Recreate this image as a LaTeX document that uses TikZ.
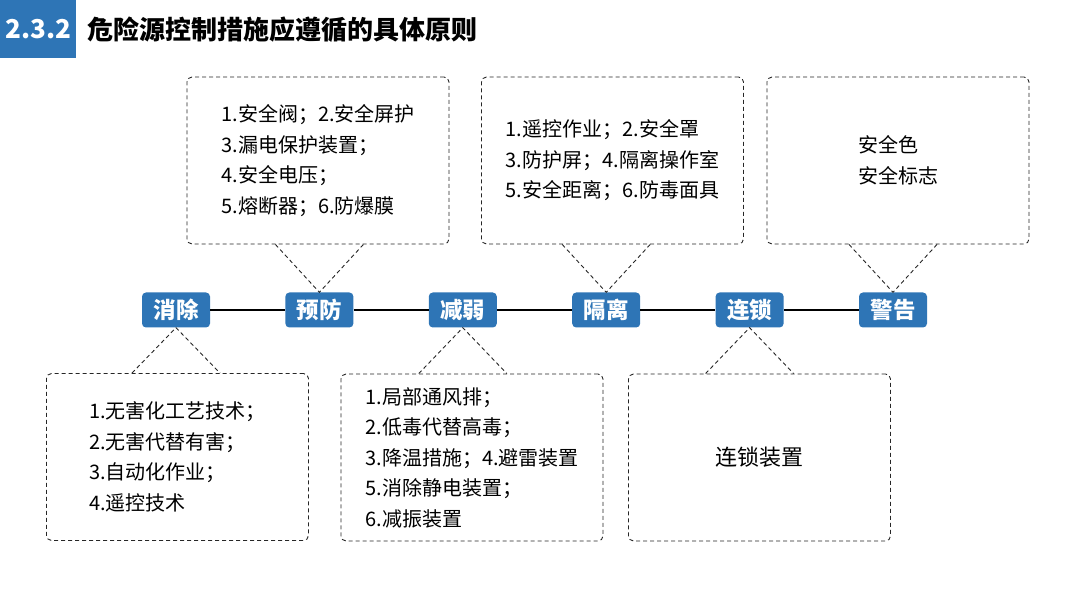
\documentclass[tikz,border=0pt]{standalone}
\usepackage{fontspec}
\setmainfont{Noto Sans CJK SC}
\usetikzlibrary{positioning,calc}
\definecolor{blu}{HTML}{2E75B6}

\begin{document}
\begin{tikzpicture}[x=1pt,y=1pt,
		tag/.style={fill=blu, rounded corners=4pt, minimum width=68pt, minimum height=35pt,
			inner sep=0pt, text=white, font=\fontsize{22.5}{22.5}\selectfont\bfseries},
		box/.style={draw=black!85, line width=0.9pt, dash pattern=on 4pt off 3pt,
			rounded corners=5pt, minimum width=262pt, minimum height=167pt,
			align=left, font=\fontsize{20}{30.5}\selectfont},
		tri/.style={draw=black!85, line width=0.9pt, dash pattern=on 4pt off 3pt}]
		\useasboundingbox (0,0) rectangle (1080,608);

		% title bar
		\node (num) [fill=blu, text=white, anchor=north west, inner sep=0pt,
			minimum width=76pt, minimum height=58pt,
			font=\fontsize{26}{26}\selectfont\bfseries] at (0,608) {2.3.2};
		\node (title) [right=11pt of num, inner sep=0pt,
			font=\fontsize{26}{26}\selectfont\bfseries] {危险源控制措施应遵循的具体原则};

		% principles
		\node[tag] (n1) at (176,298) {消除};
		\node[tag, right=75pt of n1] (n2) {预防};
		\node[tag, right=75pt of n2] (n3) {减弱};
		\node[tag, right=75pt of n3] (n4) {隔离};
		\node[tag, right=75pt of n4] (n5) {连锁};
		\node[tag, right=75pt of n5] (n6) {警告};
		\foreach \a/\b in {n1/n2,n2/n3,n3/n4,n4/n5,n5/n6}
			\draw[line width=1.3pt] (\a.east) -- (\b.west);

		% measures above
		\node[box] (t1) at (318,447.5) {1.安全阀；2.安全屏护\\3.漏电保护装置；\\4.安全电压；\\5.熔断器；6.防爆膜};
		\node[box] (t2) at (612.5,447.5) {1.遥控作业；2.安全罩\\3.防护屏；4.隔离操作室\\5.安全距离；6.防毒面具};
		\node[box] (t3) at (898,447.5) {安全色\\安全标志};

		% measures below
		\node[box] (b1) at (177.5,151) {1.无害化工艺技术；\\2.无害代替有害；\\3.自动化作业；\\4.遥控技术};
		\node[box] (b2) at (472,150.5) {1.局部通风排；\\2.低毒代替高毒；\\3.降温措施；4.避雷装置\\5.消除静电装置；\\6.减振装置};
		\node[box, font=\fontsize{22}{30}\selectfont] (b3) at (759.5,150.5) {连锁装置};

		\foreach \n/\b in {n2/t1,n4/t2,n6/t3}
			\draw[tri] ($(\b.south -| \n)+(-44,0)$) -- (\n.north) -- ($(\b.south -| \n)+(44,0)$);
		\foreach \n/\b in {n1/b1,n3/b2,n5/b3}
			\draw[tri] ($(\b.north -| \n)+(-44,0)$) -- (\n.south) -- ($(\b.north -| \n)+(44,0)$);
	\end{tikzpicture}
\end{document}
